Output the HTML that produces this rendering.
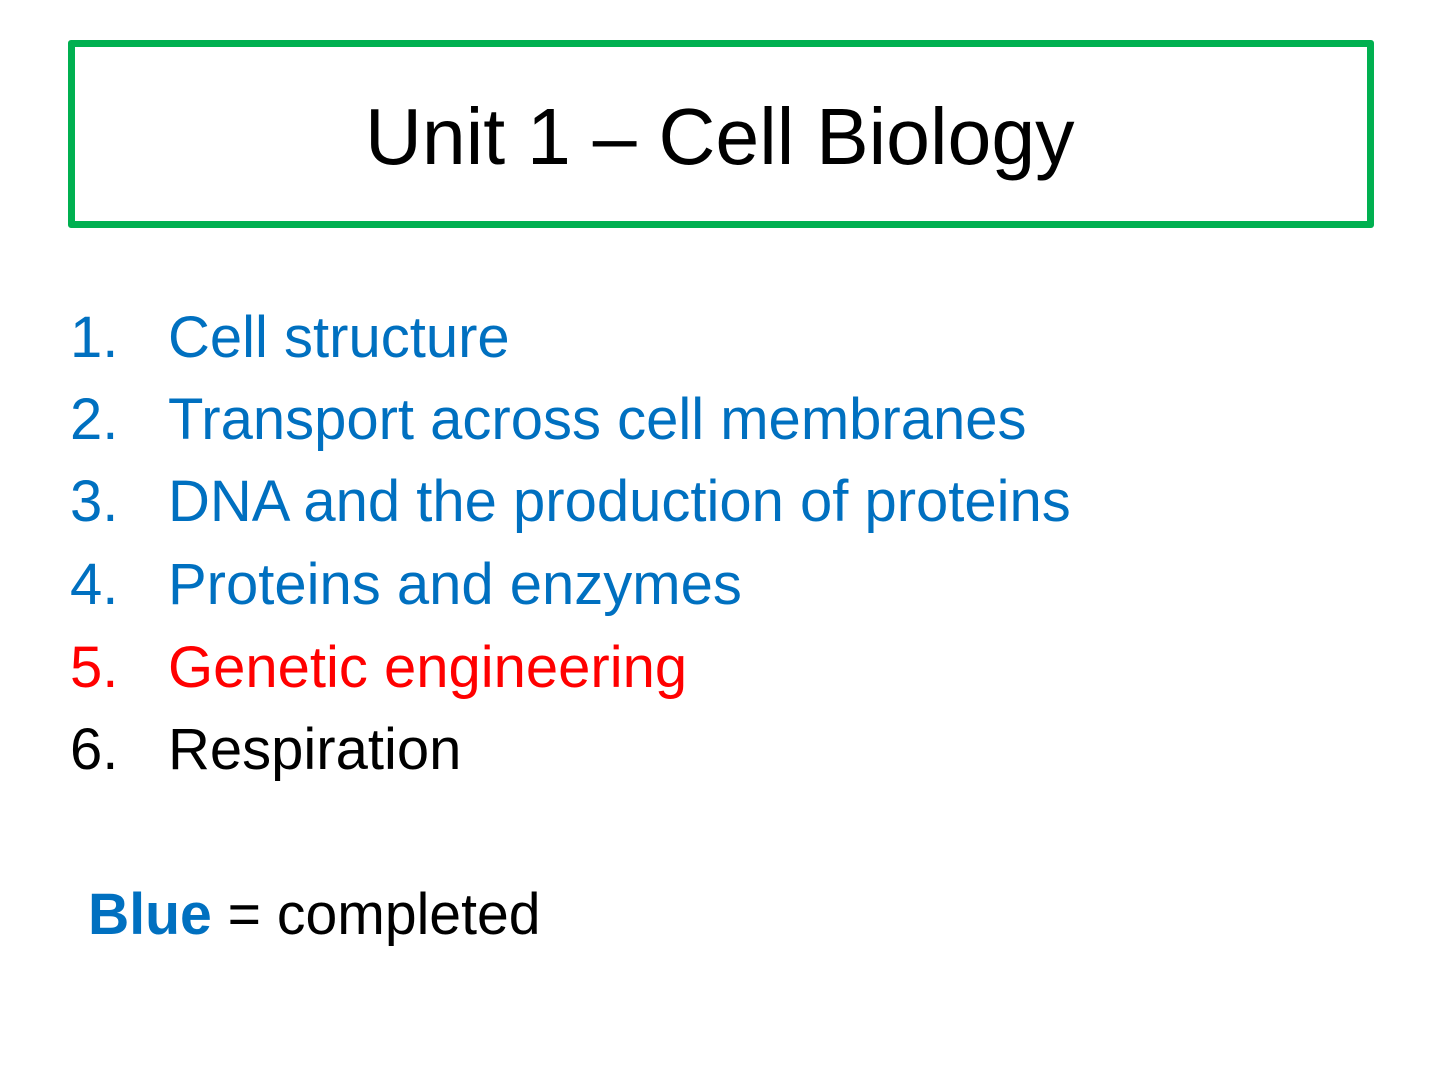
<!DOCTYPE html>
<html><head><meta charset="utf-8"><style>
html,body{margin:0;padding:0;background:#fff;}
body{width:1440px;height:1080px;position:relative;overflow:hidden;font-family:"Liberation Sans",sans-serif;}
.box{position:absolute;left:68px;top:40px;width:1292px;height:174px;border:7px solid #00b050;border-radius:3px;}
.t{position:absolute;white-space:nowrap;line-height:1;transform-origin:left top;}
.title{left:365px;top:97px;font-size:80px;color:#000;transform:scaleX(0.985);}
.li{font-size:58px;}
.b{color:#0070c0}.r{color:#ff0000}.k{color:#000}
</style></head><body>
<div class="box"></div>
<div class="t title">Unit 1 – Cell Biology</div>

<div class="t li b" style="left:70px;top:309px">1.</div><div class="t li b" style="left:168px;top:309px">Cell structure</div>
<div class="t li b" style="left:70px;top:391px">2.</div><div class="t li b" style="left:168px;top:391px">Transport across cell membranes</div>
<div class="t li b" style="left:70px;top:473px">3.</div><div class="t li b" style="left:168px;top:473px">DNA and the production of proteins</div>
<div class="t li b" style="left:70px;top:556px">4.</div><div class="t li b" style="left:168px;top:556px">Proteins and enzymes</div>
<div class="t li r" style="left:70px;top:639px">5.</div><div class="t li r" style="left:168px;top:639px">Genetic engineering</div>
<div class="t li k" style="left:70px;top:721px">6.</div><div class="t li k" style="left:168px;top:721px">Respiration</div>

<div class="t li k" style="left:88px;top:886px;transform:scaleX(0.985)"><b class="b">Blue</b> = completed</div>
</body></html>
